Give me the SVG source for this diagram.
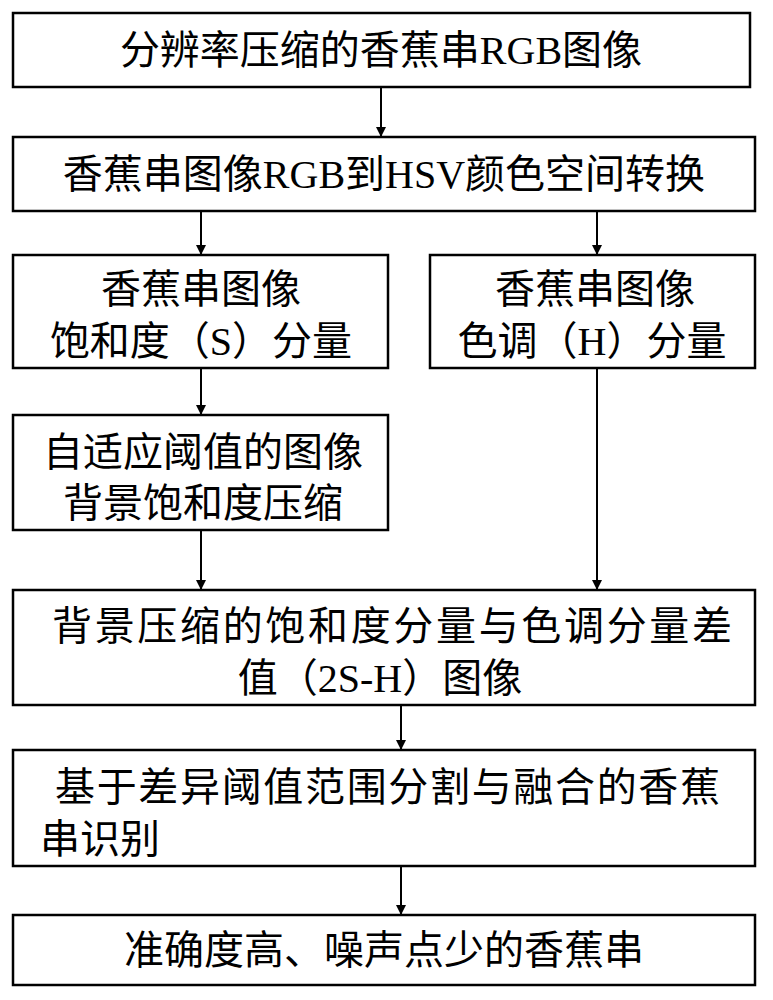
<svg xmlns="http://www.w3.org/2000/svg" width="773" height="1000" viewBox="0 0 773 1000">
<style>
rect{fill:#fff;stroke:#000;stroke-width:2.5}
text{font-family:"Liberation Serif","Noto Sans CJK SC",serif;font-size:40px;fill:#000}
.c{text-anchor:middle}
line{stroke:#000;stroke-width:2}
</style>
<defs><marker id="a" markerWidth="10" markerHeight="10" refX="9" refY="5" orient="auto" markerUnits="userSpaceOnUse"><path d="M0,0 L10,5 L0,10 z"/></marker></defs>
<rect width="773" height="1000" style="stroke:none"/>
<g id="connectors">
<line x1="381" y1="87" x2="381" y2="136" marker-end="url(#a)"/>
<line x1="201" y1="211" x2="201" y2="254" marker-end="url(#a)"/>
<line x1="597" y1="211" x2="597" y2="254" marker-end="url(#a)"/>
<line x1="201" y1="368" x2="201" y2="414" marker-end="url(#a)"/>
<line x1="201" y1="530" x2="201" y2="589" marker-end="url(#a)"/>
<line x1="597" y1="368" x2="597" y2="589" marker-end="url(#a)"/>
<line x1="401" y1="705" x2="401" y2="749" marker-end="url(#a)"/>
<line x1="401" y1="866" x2="401" y2="914" marker-end="url(#a)"/>
</g>
<g id="n1"><rect x="13" y="13" width="737" height="74"/><text class="c" x="381" y="64">分辨率压缩的香蕉串RGB图像</text></g>
<g id="n2"><rect x="13" y="137" width="742" height="74"/><text class="c" x="384" y="188">香蕉串图像RGB到HSV颜色空间转换</text></g>
<g id="n3"><rect x="13" y="255" width="375" height="113"/><text class="c" x="201" y="303">香蕉串图像</text><text class="c" x="201" y="355">饱和度（S）分量</text></g>
<g id="n4"><rect x="430" y="255" width="325" height="113"/><text class="c" x="595" y="303">香蕉串图像</text><text class="c" x="592" y="355">色调（H）分量</text></g>
<g id="n5"><rect x="13" y="415" width="375" height="115"/><text class="c" x="203" y="466">自适应阈值的图像</text><text class="c" x="203" y="517">背景饱和度压缩</text></g>
<g id="n6"><rect x="13" y="590" width="742" height="115"/><text class="c" x="392" y="640" textLength="680">背景压缩的饱和度分量与色调分量差</text><text class="c" x="380" y="692">值（2S-H）图像</text></g>
<g id="n7"><rect x="13" y="750" width="742" height="116"/><text x="55" y="801" textLength="665">基于差异阈值范围分割与融合的香蕉</text><text x="40" y="853">串识别</text></g>
<g id="n8"><rect x="13" y="915" width="742" height="70"/><text class="c" x="384" y="964">准确度高、噪声点少的香蕉串</text></g>
</svg>
